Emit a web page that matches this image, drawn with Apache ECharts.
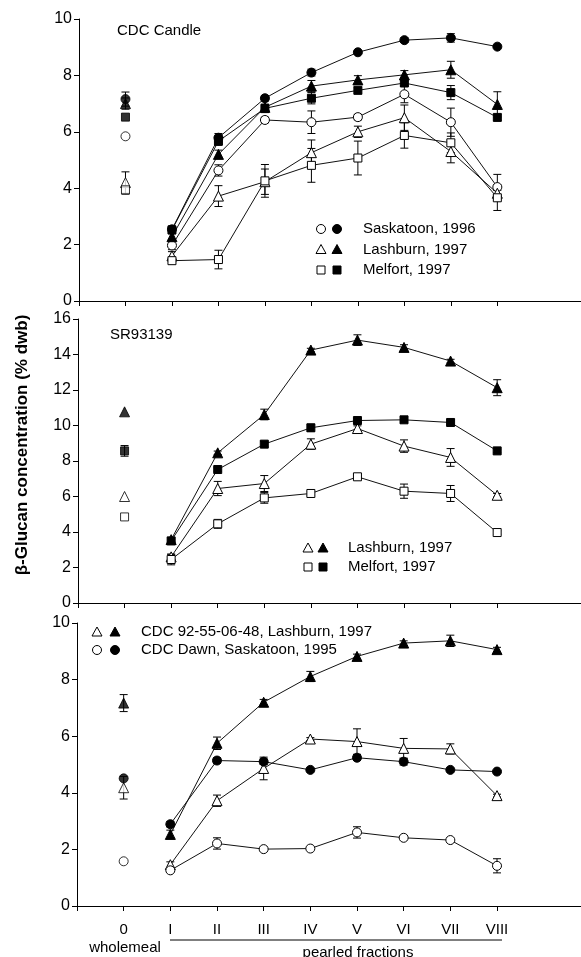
<!DOCTYPE html>
<html>
<head>
<meta charset="utf-8">
<script src="https://cdn.jsdelivr.net/npm/echarts@6/dist/echarts.min.js"></script>
<style>
html,body{margin:0;padding:0;background:#fff;}
#chart{width:581px;height:957px;}
</style>
</head>
<body>
<div id="chart"></div>
<script>
// x positions: 0 = wholemeal, 1..8 = pearled fractions I..VIII
const xTickLabels = ['0', 'I', 'II', 'III', 'IV', 'V', 'VI', 'VII', 'VIII'];
const panelTitles = ['CDC Candle', 'SR93139', ''];
const yMax = [10, 16, 10];

// Panel 1: CDC Candle
const sask96Filled    = [7.16, 2.54, 5.79, 7.19, 8.10, 8.82, 9.25, 9.33, 9.02];
const sask96FilledErr = [0.25, 0.12, 0.15, 0.10, 0.12, 0.00, 0.08, 0.15, 0.00];
const sask96Open      = [5.84, 1.97, 4.63, 6.42, 6.34, 6.52, 7.33, 6.34, 4.04];
const sask96OpenErr   = [0.00, 0.15, 0.20, 0.10, 0.40, 0.10, 0.30, 0.50, 0.45];
const lash97Filled    = [7.00, 2.28, 5.20, 6.87, 7.62, 7.84, 8.02, 8.20, 6.97];
const lash97FilledErr = [0.20, 0.10, 0.15, 0.10, 0.20, 0.15, 0.15, 0.30, 0.45];
const lash97Open      = [4.20, 1.60, 3.72, 4.23, 5.26, 6.00, 6.50, 5.30, 3.82];
const lash97OpenErr   = [0.38, 0.15, 0.37, 0.45, 0.45, 0.20, 0.45, 0.40, 0.10];
const melf97Filled    = [6.52, 2.52, 5.67, 6.83, 7.19, 7.47, 7.73, 7.39, 6.51];
const melf97FilledErr = [0.00, 0.10, 0.15, 0.15, 0.20, 0.10, 0.10, 0.25, 0.10];
const melf97Open      = [3.94, 1.43, 1.47, 4.26, 4.81, 5.07, 5.87, 5.61, 3.66];
const melf97OpenErr   = [0.15, 0.10, 0.33, 0.58, 0.60, 0.60, 0.45, 0.35, 0.45];

// Panel 2: SR93139
const srLashFilled    = [10.77, 3.57, 8.46, 10.62, 14.25, 14.81, 14.40, 13.63, 12.13];
const srLashFilledErr = [0.00, 0.10, 0.10, 0.30, 0.10, 0.30, 0.15, 0.10, 0.45];
const srLashOpen      = [6.00, 2.60, 6.45, 6.73, 8.95, 9.83, 8.84, 8.20, 6.07];
const srLashOpenErr   = [0.00, 0.15, 0.40, 0.45, 0.30, 0.15, 0.35, 0.50, 0.10];
const srMelfFilled    = [8.57, 3.50, 7.52, 8.95, 9.87, 10.28, 10.32, 10.17, 8.57];
const srMelfFilledErr = [0.30, 0.10, 0.10, 0.15, 0.20, 0.10, 0.15, 0.15, 0.10];
const srMelfOpen      = [4.85, 2.45, 4.46, 5.92, 6.17, 7.11, 6.30, 6.17, 3.97];
const srMelfOpenErr   = [0.00, 0.30, 0.25, 0.30, 0.10, 0.10, 0.40, 0.45, 0.10];

// Panel 3: CDC 92-55-06-48 (Lashburn 1997) and CDC Dawn (Saskatoon 1995)
const cdc92Filled     = [7.17, 2.53, 5.75, 7.20, 8.11, 8.82, 9.29, 9.37, 9.06];
const cdc92FilledErr  = [0.30, 0.15, 0.22, 0.10, 0.18, 0.08, 0.08, 0.20, 0.08];
const cdc92Open       = [4.18, 1.46, 3.72, 4.86, 5.90, 5.81, 5.57, 5.55, 3.90];
const cdc92OpenErr    = [0.40, 0.10, 0.20, 0.40, 0.05, 0.45, 0.35, 0.18, 0.05];
const dawnFilled      = [4.51, 2.89, 5.14, 5.10, 4.81, 5.24, 5.10, 4.81, 4.75];
const dawnFilledErr   = [0.00, 0.10, 0.10, 0.10, 0.00, 0.10, 0.12, 0.00, 0.00];
const dawnOpen        = [1.58, 1.26, 2.21, 2.01, 2.03, 2.60, 2.41, 2.33, 1.42];
const dawnOpenErr     = [0.00, 0.00, 0.20, 0.00, 0.00, 0.20, 0.00, 0.00, 0.25];

const legendTop = ['Saskatoon, 1996', 'Lashburn, 1997', 'Melfort, 1997'];
const legendMid = ['Lashburn, 1997', 'Melfort, 1997'];
const legendBot = ['CDC 92-55-06-48, Lashburn, 1997', 'CDC Dawn, Saskatoon, 1995'];
const yTitle = 'β-Glucan concentration (% dwb)';
const xGroupLabels = ['wholemeal', 'pearled fractions'];

const FONT = '"Liberation Sans", Arial, Helvetica, sans-serif';

const panels = [
  [
    [sask96Open, sask96OpenErr, 'circle', false],
    [sask96Filled, sask96FilledErr, 'circle', true],
    [lash97Open, lash97OpenErr, 'triangle', false],
    [lash97Filled, lash97FilledErr, 'triangle', true],
    [melf97Open, melf97OpenErr, 'rect', false],
    [melf97Filled, melf97FilledErr, 'rect', true]
  ],
  [
    [srLashOpen, srLashOpenErr, 'triangle', false],
    [srLashFilled, srLashFilledErr, 'triangle', true],
    [srMelfOpen, srMelfOpenErr, 'rect', false],
    [srMelfFilled, srMelfFilledErr, 'rect', true]
  ],
  [
    [cdc92Open, cdc92OpenErr, 'triangle', false],
    [cdc92Filled, cdc92FilledErr, 'triangle', true],
    [dawnOpen, dawnOpenErr, 'circle', false],
    [dawnFilled, dawnFilledErr, 'circle', true]
  ]
];

const symSize = {circle: 9, triangle: 10, rect: 8};

const grids = [
  {left: 79, top: 19, width: 502, height: 282},
  {left: 78, top: 319, width: 503, height: 284},
  {left: 77, top: 623, width: 504, height: 283}
];

const tickVals = [-1, 0, 1, 2, 3, 4, 5, 6, 7, 8];
const labelVals = [0, 1, 2, 3, 4, 5, 6, 7, 8];

const xAxes = grids.map((g, i) => ({
  gridIndex: i, type: 'value', min: -1, max: 9.8, interval: 1,
  axisLine: {onZero: false, lineStyle: {color: '#000', width: 1}},
  axisTick: {show: true, length: 5, inside: false, customValues: tickVals, lineStyle: {color: '#000'}},
  axisLabel: {show: i === 2, customValues: labelVals, margin: 16, color: '#000', fontSize: 15, fontFamily: FONT,
    formatter: v => xTickLabels[Math.round(v)] || ''},
  splitLine: {show: false}
}));

const yAxes = grids.map((g, i) => ({
  gridIndex: i, type: 'value', min: 0, max: yMax[i], interval: 2,
  axisLine: {show: true, onZero: false, lineStyle: {color: '#000', width: 1}},
  axisTick: {show: true, length: 5, lineStyle: {color: '#000'}},
  axisLabel: {color: '#000', fontSize: 16, fontFamily: FONT, margin: 7},
  splitLine: {show: false}
}));

function errRender(params, api) {
  const x = api.value(0), y = api.value(1), e = api.value(2);
  const hi = api.coord([x, y + e]);
  const lo = api.coord([x, y - e]);
  const w = 4;
  const st = {stroke: '#000', lineWidth: 1};
  return {type: 'group', children: [
    {type: 'line', shape: {x1: hi[0], y1: hi[1], x2: lo[0], y2: lo[1]}, style: st},
    {type: 'line', shape: {x1: hi[0] - w, y1: hi[1], x2: hi[0] + w, y2: hi[1]}, style: st},
    {type: 'line', shape: {x1: lo[0] - w, y1: lo[1], x2: lo[0] + w, y2: lo[1]}, style: st}
  ]};
}

const series = [];
panels.forEach((sets, gi) => {
  sets.forEach(([vals, errs, sym, filled]) => {
    const itemStyle = filled ? {color: '#000', borderColor: '#000', borderWidth: 1}
                             : {color: '#fff', borderColor: '#000', borderWidth: 1};
    const errData = [];
    vals.forEach((v, i) => { if (errs[i] > 0) errData.push([i, v, errs[i]]); });
    series.push({
      type: 'custom', xAxisIndex: gi, yAxisIndex: gi, renderItem: errRender,
      data: errData, z: 2, silent: true
    });
    series.push({
      type: 'line', xAxisIndex: gi, yAxisIndex: gi,
      data: vals.slice(1).map((v, i) => [i + 1, v]),
      symbol: sym, symbolSize: symSize[sym], showSymbol: true,
      lineStyle: {color: '#111', width: 1}, itemStyle: itemStyle, z: filled ? 4 : 3,
      silent: true
    });
    series.push({
      type: 'scatter', xAxisIndex: gi, yAxisIndex: gi,
      data: [[0, vals[0]]], symbol: sym, symbolSize: symSize[sym],
      itemStyle: itemStyle, z: filled ? 4 : 3, silent: true
    });
  });
});

// legend glyphs (decoration)
function glyph(sym, filled, cx, cy) {
  const style = {fill: filled ? '#000' : '#fff', stroke: '#000', lineWidth: 1};
  if (sym === 'circle') return {type: 'circle', shape: {cx: cx, cy: cy, r: 4.5}, style: style};
  if (sym === 'rect') return {type: 'rect', shape: {x: cx - 4, y: cy - 4, width: 8, height: 8}, style: style};
  return {type: 'polygon', shape: {points: [[cx, cy - 5], [cx + 5, cy + 4], [cx - 5, cy + 4]]}, style: style};
}
function legendRows(names, syms, x1, x2, xt, y0, dy) {
  const out = [];
  names.forEach((n, i) => {
    const y = y0 + i * dy;
    out.push(glyph(syms[i], false, x1, y));
    out.push(glyph(syms[i], true, x2, y));
    out.push({type: 'text', x: xt, y: y, style: {text: n, fill: '#000', font: '15px ' + FONT, textVerticalAlign: 'middle'}});
  });
  return out;
}

const graphics = [].concat(
  legendRows(legendTop, ['circle', 'triangle', 'rect'], 321, 337, 363, 229, 20.5),
  legendRows(legendMid, ['triangle', 'rect'], 308, 323, 348, 548, 19),
  legendRows(legendBot, ['triangle', 'circle'], 97, 115, 141, 632, 18),
  [
    {type: 'text', x: 117, y: 31, style: {text: panelTitles[0], fill: '#000', font: '15px ' + FONT, textVerticalAlign: 'middle'}},
    {type: 'text', x: 110, y: 335, style: {text: panelTitles[1], fill: '#000', font: '15px ' + FONT, textVerticalAlign: 'middle'}},
    {type: 'text', x: 22, y: 445, rotation: Math.PI / 2,
      style: {text: yTitle, fill: '#000', font: 'bold 17px ' + FONT, textAlign: 'center', textVerticalAlign: 'middle'}},
    {type: 'text', x: 125, y: 948, style: {text: xGroupLabels[0], fill: '#000', font: '15px ' + FONT, textAlign: 'center', textVerticalAlign: 'middle'}},
    {type: 'line', shape: {x1: 170, y1: 940, x2: 502, y2: 940}, style: {stroke: '#000', lineWidth: 1}},
    {type: 'text', x: 358, y: 953, style: {text: xGroupLabels[1], fill: '#000', font: '15px ' + FONT, textAlign: 'center', textVerticalAlign: 'middle'}}
  ]
);

const chart = echarts.init(document.getElementById('chart'), null, {renderer: 'canvas'});
chart.setOption({
  animation: false,
  backgroundColor: '#fff',
  grid: grids,
  xAxis: xAxes,
  yAxis: yAxes,
  series: series,
  graphic: graphics
});
</script>
</body>
</html>
